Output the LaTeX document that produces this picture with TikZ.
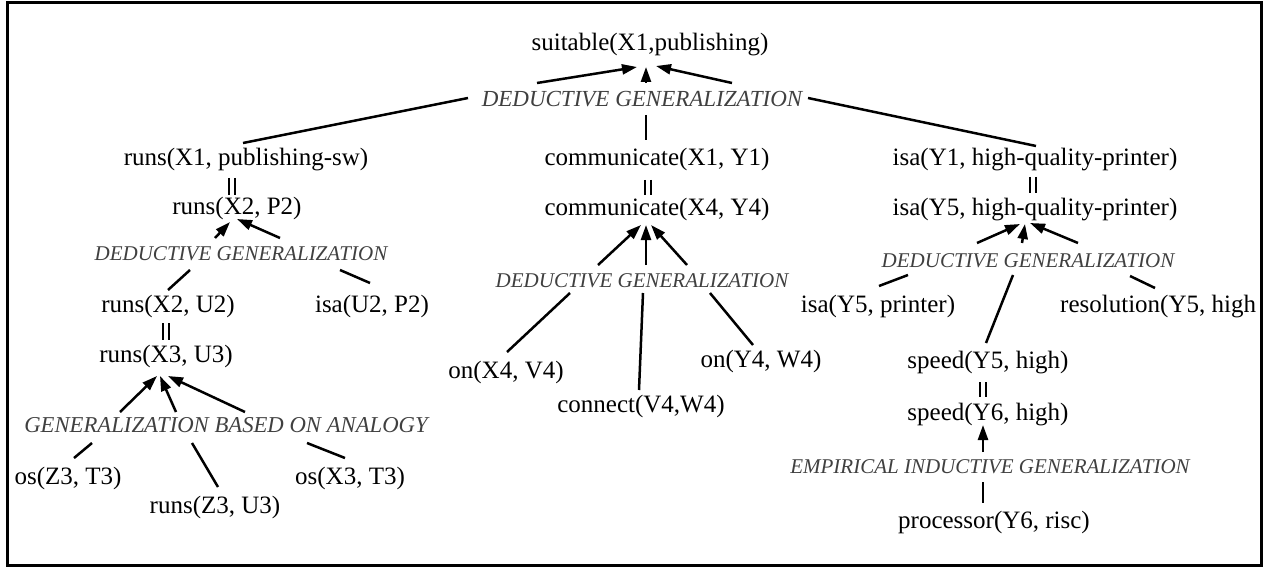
\documentclass[tikz,border=0pt]{standalone}
\usepackage{fontspec}
\setmainfont{Liberation Serif}
\usetikzlibrary{arrows.meta}
\begin{document}
\begin{tikzpicture}[x=1pt,y=-1pt,
  term/.style={font=\fontsize{25}{30}\selectfont, inner sep=0pt, anchor=base},
  rule/.style={font=\fontsize{21}{25}\selectfont\itshape, text=black!75, inner sep=0pt, anchor=base},
  bigrule/.style={rule, font=\fontsize{23}{27}\selectfont\itshape},
  link/.style={line width=2.5pt},
  infer/.style={link, -{Triangle[length=15pt,width=10pt]}},
  same/.style={line width=1.1pt}
]
\useasboundingbox (0,0) rectangle (1264,567);

% terms and generalization rules
\node[term] (suit) at (650,51) {suitable(X1,publishing)};
\node[bigrule] (dgT) at (642,107) {DEDUCTIVE GENERALIZATION};
\node[term] (runsA) at (246,165) {runs(X1, publishing-sw)};
\node[term] (commA) at (657,165) {communicate(X1, Y1)};
\node[term] (isaA) at (1035,165) {isa(Y1, high-quality-printer)};
\node[term] (runsB) at (237,214) {runs(X2, P2)};
\node[term] (commB) at (657,215) {communicate(X4, Y4)};
\node[term] (isaB) at (1035,215) {isa(Y5, high-quality-printer)};
\node[rule] (dgL) at (241,260) {DEDUCTIVE GENERALIZATION};
\node[rule] (dgC) at (642,287) {DEDUCTIVE GENERALIZATION};
\node[rule] (dgR) at (1028,267) {DEDUCTIVE GENERALIZATION};
\node[term] (runsC) at (168,312) {runs(X2, U2)};
\node[term] (isaU) at (372,312) {isa(U2, P2)};
\node[term] (isaP) at (878,312) {isa(Y5, printer)};
\begin{scope}
  \clip (7.5,2.2) rectangle (1259.5,565);
  \node[term, anchor=base west] (res) at (1060,312) {resolution(Y5, high};
\end{scope}
\node[term] (runsD) at (166,362) {runs(X3, U3)};
\node[term] (onX) at (506,378) {on(X4, V4)};
\node[term] (onY) at (761,367) {on(Y4, W4)};
\node[term] (speedA) at (988,368) {speed(Y5, high)};
\node[term] (conn) at (641,412) {connect(V4,W4)};
\node[term] (speedB) at (988,420) {speed(Y6, high)};
\node[bigrule, font=\fontsize{22.7}{27}\selectfont\itshape] (dgA) at (226,432) {GENERALIZATION BASED ON ANALOGY};
\node[rule] (dgE) at (990,473) {EMPIRICAL INDUCTIVE GENERALIZATION};
\node[term] (osZ) at (68,484) {os(Z3, T3)};
\node[term] (osX) at (350,484) {os(X3, T3)};
\node[term] (runsE) at (215,513) {runs(Z3, U3)};
\node[term] (proc) at (994,528) {processor(Y6, risc)};

% top deductive generalization
\draw[infer] ([shift={(-105,-24)}]dgT.base) -- ([shift={(-13,16)}]suit.base);
\draw[infer] ([shift={(4,-24)}]dgT.base) -- ([shift={(-4,16)}]suit.base);
\draw[infer] ([shift={(90,-24)}]dgT.base) -- ([shift={(6,15)}]suit.base);
\draw[link] ([shift={(-174,-9)}]dgT.base) -- ([shift={(-3,-22)}]runsA.base);
\draw[link] ([shift={(4,8)}]dgT.base) -- ([shift={(-11,-25)}]commA.base);
\draw[link] ([shift={(166,-9)}]dgT.base) -- ([shift={(1,-19)}]isaA.base);

% unifications, drawn as a pair of thin bars
\foreach \dx in {-3,3} {
  \draw[same] ([shift={(-14+\dx,13)}]runsA.base) -- ([shift={(-5+\dx,-19)}]runsB.base);
  \draw[same] ([shift={(-9+\dx,15)}]commA.base) -- ([shift={(-9+\dx,-20)}]commB.base);
  \draw[same] ([shift={(-2+\dx,12)}]isaA.base) -- ([shift={(-2+\dx,-22)}]isaB.base);
  \draw[same] ([shift={(-2+\dx,11)}]runsC.base) -- ([shift={(0+\dx,-22)}]runsD.base);
  \draw[same] ([shift={(-5+\dx,14)}]speedA.base) -- ([shift={(-5+\dx,-23)}]speedB.base);
}

% left deductive generalization
\draw[infer] ([shift={(-26,-22)}]dgL.base) -- ([shift={(-7,8)}]runsB.base);
\draw[infer] ([shift={(39,-22)}]dgL.base) -- ([shift={(0,5)}]runsB.base);
\draw[link] ([shift={(-51,10)}]dgL.base) -- ([shift={(0,-22)}]runsC.base);
\draw[link] ([shift={(99,10)}]dgL.base) -- ([shift={(-2,-29)}]isaU.base);

% generalization based on analogy
\draw[infer] ([shift={(-106,-20)}]dgA.base) -- ([shift={(-9,14)}]runsD.base);
\draw[infer] ([shift={(-50,-20)}]dgA.base) -- ([shift={(-6,14)}]runsD.base);
\draw[infer] ([shift={(19,-20)}]dgA.base) -- ([shift={(2,14)}]runsD.base);
\draw[link] ([shift={(-134,11)}]dgA.base) -- ([shift={(6,-26)}]osZ.base);
\draw[link] ([shift={(-34,11)}]dgA.base) -- ([shift={(3,-26)}]runsE.base);
\draw[link] ([shift={(81,11)}]dgA.base) -- ([shift={(-5,-26)}]osX.base);

% centre deductive generalization
\draw[infer] ([shift={(-44,-22)}]dgC.base) -- ([shift={(-16,10)}]commB.base);
\draw[infer] ([shift={(4,-22)}]dgC.base) -- ([shift={(-11,10)}]commB.base);
\draw[infer] ([shift={(45,-22)}]dgC.base) -- ([shift={(-6,10)}]commB.base);
\draw[link] ([shift={(-72,6)}]dgC.base) -- ([shift={(1,-26)}]onX.base);
\draw[link] ([shift={(1,6)}]dgC.base) -- ([shift={(-2,-22)}]conn.base);
\draw[link] ([shift={(68,6)}]dgC.base) -- ([shift={(-8,-22)}]onY.base);

% right deductive generalization
\draw[infer] ([shift={(-51,-24)}]dgR.base) -- ([shift={(-15,9)}]isaB.base);
\draw[infer] ([shift={(-6,-24)}]dgR.base) -- ([shift={(-10,9)}]isaB.base);
\draw[infer] ([shift={(50,-24)}]dgR.base) -- ([shift={(-5,8)}]isaB.base);
\draw[link] ([shift={(-120,8)}]dgR.base) -- ([shift={(1,-26)}]isaP.base);
\draw[link] ([shift={(-15,8)}]dgR.base) -- ([shift={(-2,-25)}]speedA.base);
\draw[link] ([shift={(102,9)}]dgR.base) -- ([shift={(95,-24)}]res.base west);

% empirical inductive generalization
\draw[infer] ([shift={(-7,-21)}]dgE.base) -- ([shift={(-5,5)}]speedB.base);
\draw[link] ([shift={(-7,9)}]dgE.base) -- ([shift={(-11,-25)}]proc.base);

% frame
\draw[line width=3pt] (7.5,2.2) rectangle (1261,565.3);
\end{tikzpicture}
\end{document}
